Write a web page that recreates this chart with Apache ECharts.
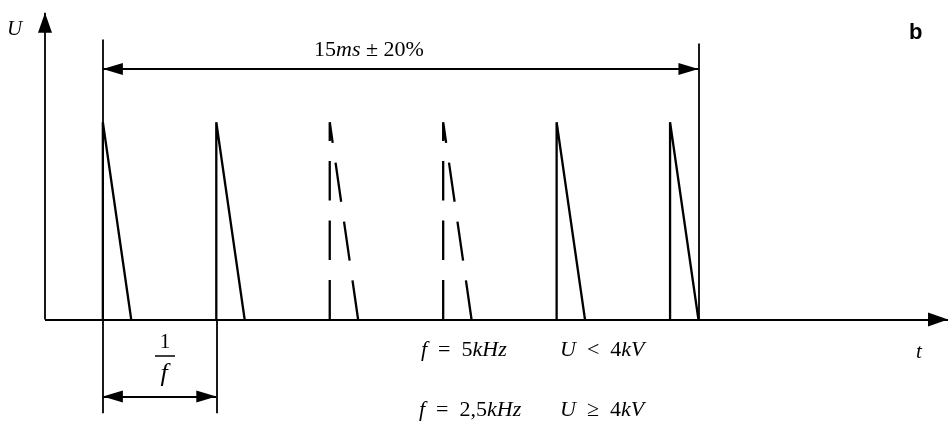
<!DOCTYPE html>
<html>
<head>
<meta charset="utf-8">
<script src="https://cdn.jsdelivr.net/npm/echarts@6/dist/echarts.min.js"></script>
<style>
    html, body { margin: 0; padding: 0; background: #fff; }
    #chart { width: 948px; height: 424px; }
</style>
</head>
<body>
<div id="chart"></div>
<script>
    // Zeitachse in Perioden 1/f, Spannung normiert auf den Scheitelwert
    var pulseStart = [0, 1, 2, 3, 4, 5];                        // Anstieg jedes Impulses
    var pulseDashed = [false, false, true, true, false, false]; // nur bei f = 5kHz
    var pulsePeak = 1;
    var pulseFall = 0.25;                                       // Abfall bis auf 0

    var axisT = [-0.51, 7.45];   // t-Achse (von ... bis)
    var axisU = [0, 1.555];      // U-Achse (von ... bis)

    var burstSpan = [0, 5.25];   // 15ms ± 20%
    var burstLevel = 1.27;
    var burstExtTop = [1.42, 1.40];

    var periodSpan = [0, 1];     // 1/f
    var periodLevel = -0.39;
    var periodExtBottom = -0.475;

    var serif = '"Liberation Serif", "DejaVu Serif", serif';

    (function () {
        var chart = echarts.init(document.getElementById('chart'));

        var arrowEnd = { symbol: 'triangle', symbolSize: [14, 20], symbolOffset: [0, '50%'] };
        var dimArrow = { symbol: 'triangle', symbolSize: [12, 20], symbolOffset: [0, '50%'] };

        function end(coord, sym) {
            var o = { coord: coord, symbol: 'none' };
            if (sym) {
                o.symbol = sym.symbol;
                o.symbolSize = sym.symbolSize;
                o.symbolOffset = sym.symbolOffset;
            }
            return o;
        }

        // Linien: Achsen, Maßlinien, Hilfslinien
        var marks = [
            [end([axisT[0], 0]), end([axisT[1], 0], arrowEnd)],
            [end([axisT[0], axisU[0]]), end([axisT[0], axisU[1]], arrowEnd)],
            [end([burstSpan[0], burstLevel], dimArrow), end([burstSpan[1], burstLevel], dimArrow)],
            [end([periodSpan[0], periodLevel], dimArrow), end([periodSpan[1], periodLevel], dimArrow)],
            [end([periodSpan[0], periodExtBottom]), end([periodSpan[0], burstExtTop[0]])],
            [end([periodSpan[1], periodExtBottom]), end([periodSpan[1], 0])],
            [end([burstSpan[1], 0]), end([burstSpan[1], burstExtTop[1]])]
        ];

        var series = pulseStart.map(function (t0, i) {
            return {
                type: 'line',
                silent: true,
                symbol: 'none',
                data: [[t0, 0], [t0, pulsePeak], [t0 + pulseFall, 0]],
                lineStyle: {
                    color: '#000',
                    width: 2.3,
                    type: pulseDashed[i] ? [39.5, 20] : 'solid'
                }
            };
        });

        series[0].markLine = {
            silent: true,
            animation: false,
            symbol: 'none',
            label: { show: false },
            lineStyle: { color: '#000', width: 1.8, type: 'solid' },
            emphasis: { disabled: true },
            data: marks
        };

        var it = { fontStyle: 'italic', fontFamily: serif, fontSize: 22 };
        var rm = { fontStyle: 'normal', fontFamily: serif, fontSize: 22 };

        chart.setOption({
            animation: false,
            backgroundColor: '#fff',
            grid: { left: 45, right: 0, top: 0, bottom: 0 },
            xAxis: { type: 'value', min: axisT[0], max: axisT[1], show: false },
            yAxis: { type: 'value', min: -0.53, max: 1.62, show: false },
            series: series,
            graphic: [
                { type: 'text', x: 7, y: 29, style: { text: 'U', font: 'italic 21px ' + serif, fill: '#000', verticalAlign: 'middle' } },
                { type: 'text', x: 909, y: 33, style: { text: 'b', font: 'bold 22px "Liberation Sans", Arial, sans-serif', fill: '#000', verticalAlign: 'middle' } },
                { type: 'text', x: 916, y: 352, style: { text: 't', font: 'italic 21px ' + serif, fill: '#000', verticalAlign: 'middle' } },
                { type: 'text', x: 314, y: 50, style: {
                    text: '{r|15}{i|ms}{r| ± 20%}', fill: '#000', verticalAlign: 'middle',
                    rich: { r: { fontFamily: serif, fontSize: 22 }, i: { fontFamily: serif, fontSize: 22, fontStyle: 'italic' } }
                } },
                { type: 'text', x: 165, y: 342, style: { text: '1', font: '21px ' + serif, fill: '#000', align: 'center', verticalAlign: 'middle' } },
                { type: 'line', shape: { x1: 155, y1: 356, x2: 175, y2: 356 }, style: { stroke: '#000', lineWidth: 1.5 } },
                { type: 'text', x: 164, y: 374, style: { text: 'f', font: 'italic 26px ' + serif, fill: '#000', align: 'center', verticalAlign: 'middle' } },
                { type: 'text', x: 421, y: 350, style: {
                    text: '{i|f}{r|\u2002=\u20025}{i|kHz}', fill: '#000', verticalAlign: 'middle', rich: { i: it, r: rm }
                } },
                { type: 'text', x: 560, y: 350, style: {
                    text: '{i|U}{r|\u2002<\u20024}{i|kV}', fill: '#000', verticalAlign: 'middle', rich: { i: it, r: rm }
                } },
                { type: 'text', x: 419, y: 410, style: {
                    text: '{i|f}{r|\u2002=\u20022,5}{i|kHz}', fill: '#000', verticalAlign: 'middle', rich: { i: it, r: rm }
                } },
                { type: 'text', x: 560, y: 410, style: {
                    text: '{i|U}{r|\u2002\u2265\u20024}{i|kV}', fill: '#000', verticalAlign: 'middle', rich: { i: it, r: rm }
                } }
            ]
        });
    })();
</script>
</body>
</html>
